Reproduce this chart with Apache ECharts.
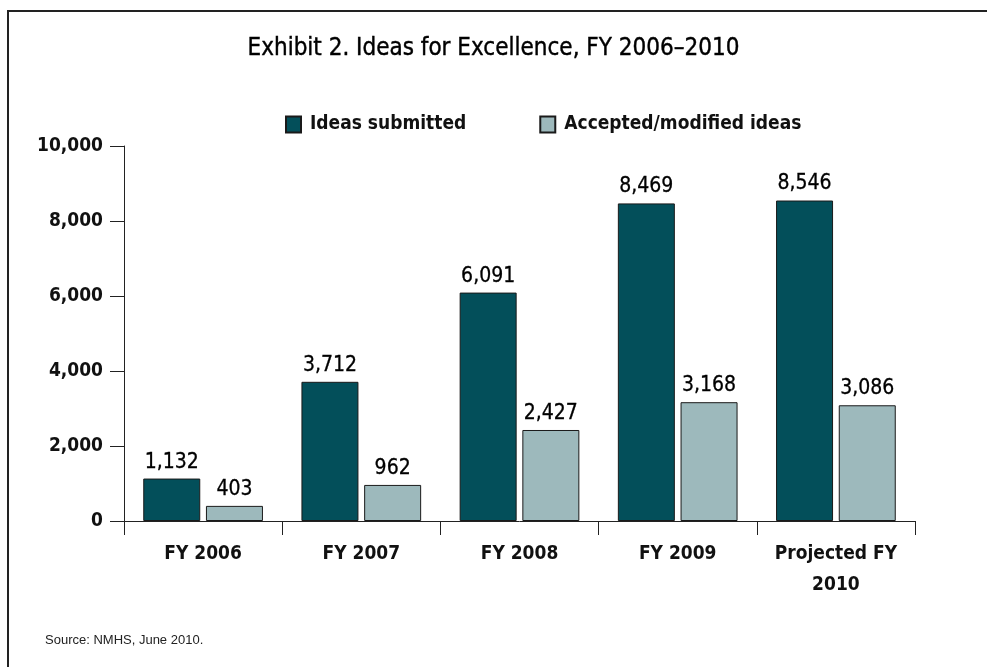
<!DOCTYPE html>
<html>
<head>
<meta charset="utf-8">
<script src="https://cdn.jsdelivr.net/npm/echarts@6/dist/echarts.min.js"></script>
<style>
html,body{margin:0;padding:0;background:#fff;}
#c{width:987px;height:667px;}
</style>
</head>
<body>
<div id="c"></div>
<script>
var categories = ['FY 2006', 'FY 2007', 'FY 2008', 'FY 2009', 'Projected FY\n2010'];
var ideasSubmitted = [1132, 3712, 6091, 8469, 8546];
var acceptedIdeas = [403, 962, 2427, 3168, 3086];
var seriesNames = ['Ideas submitted', 'Accepted/modified ideas'];

var FONT = '"Liberation Sans Narrow", "DejaVu Sans Condensed", "Liberation Sans", sans-serif';
var chart = echarts.init(document.getElementById('c'));
function fmt(v){ return v.toLocaleString('en-US'); }

chart.setOption({
  animation: false,
  backgroundColor: '#fff',
  title: {
    text: 'Exhibit 2. Ideas for Excellence, FY 2006\u20132010',
    left: 'center',
    top: 32,
    textStyle: { fontFamily: FONT, fontSize: 24, fontWeight: 500, color: '#000', textBorderColor: '#000', textBorderWidth: 0.4 }
  },
  legend: {
    top: 110,
    left: 280,
    icon: 'rect',
    itemWidth: 15,
    itemHeight: 16,
    itemGap: 73,
    textStyle: { fontFamily: FONT, fontSize: 19, fontWeight: 'bold', color: '#111', padding: [0,0,0,4] },
    data: seriesNames
  },
  grid: { left: 124, right: 72, top: 146, bottom: 146 },
  xAxis: {
    type: 'category',
    data: categories,
    axisLine: { lineStyle: { color: '#222', width: 1 } },
    axisTick: { show: true, interval: 0, length: 14, lineStyle: { color: '#222' } },
    axisLabel: { interval: 0, fontFamily: FONT, fontSize: 19, fontWeight: 'bold', color: '#111', margin: 18, lineHeight: 31 }
  },
  yAxis: {
    type: 'value',
    min: 0, max: 10000, interval: 2000,
    splitLine: { show: false },
    axisLine: { show: true, lineStyle: { color: '#222', width: 1 } },
    axisTick: { show: true, inside: false, length: 14, lineStyle: { color: '#222' } },
    axisLabel: { fontFamily: FONT, fontSize: 19, fontWeight: 'bold', color: '#111', margin: 21, formatter: fmt }
  },
  series: [
    {
      name: seriesNames[0], type: 'bar', data: ideasSubmitted,
      barWidth: 57, barGap: '10%',
      itemStyle: { color: '#034f5a', borderColor: '#1a1a1a', borderWidth: 1 },
      label: { show: true, position: 'top', distance: 6, fontFamily: FONT, fontSize: 21, fontWeight: 500, color: '#000',
               textBorderColor: '#000', textBorderWidth: 0.3,
               formatter: function(p){ return fmt(p.value); } }
    },
    {
      name: seriesNames[1], type: 'bar', data: acceptedIdeas,
      barWidth: 57, barGap: '10%',
      itemStyle: { color: '#9db9bc', borderColor: '#1a1a1a', borderWidth: 1 },
      label: { show: true, position: 'top', distance: 6, fontFamily: FONT, fontSize: 21, fontWeight: 500, color: '#000',
               textBorderColor: '#000', textBorderWidth: 0.3,
               formatter: function(p){ return fmt(p.value); } }
    }
  ],
  graphic: [
    { type: 'polyline', shape: { points: [[8, 700], [8, 11], [1000, 11]] },
      style: { stroke: '#222', lineWidth: 2, fill: null } },
    { type: 'text', left: 45, top: 634,
      style: { text: 'Source: NMHS, June 2010.', font: '13px "Liberation Sans", Arial, sans-serif', fill: '#222' } }
  ]
});
</script>
</body>
</html>
